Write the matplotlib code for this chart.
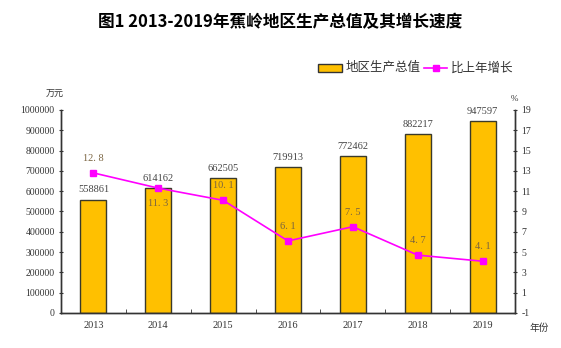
import matplotlib.pyplot as plt
from matplotlib.ticker import FixedLocator

plt.rcParams['font.family'] = ['Liberation Serif', 'Noto Sans CJK SC', 'DejaVu Sans']

years = ["2013", "2014", "2015", "2016", "2017", "2018", "2019"]
gdp = [558861, 614162, 662505, 719913, 772462, 882217, 947597]
growth = [12.8, 11.3, 10.1, 6.1, 7.5, 4.7, 4.1]
# growth label goes above the point unless listed here
below = [1]

gold = "#FFC000"
pink = "#FF00FF"
cjk = ['Noto Sans CJK SC', 'DejaVu Sans']

fig = plt.figure(figsize=(5.61, 3.48), dpi=100)
ax = fig.add_axes([0.1087, 0.1006, 0.8093, 0.5834])
ax2 = ax.twinx()

x = list(range(len(years)))
ax.bar(x, gdp, width=0.4, color=gold, edgecolor="#3a3a2a", linewidth=1.0, zorder=2)
for i, v in enumerate(gdp):
    ax.text(i, v + 25000, str(v), ha="center", va="bottom", fontsize=7.5, color="#444444")

ax.set_xlim(-0.5, len(years) - 0.5)
ax.set_ylim(0, 1000000)
ax.set_yticks(range(0, 1000001, 100000))
ax.set_yticklabels([str(v) for v in range(0, 1000001, 100000)], fontsize=7, color="#333333")
ax.set_xticks(x)
ax.set_xticklabels(years, fontsize=7.5, color="#333333")
ax.xaxis.set_minor_locator(FixedLocator([i + 0.5 for i in x[:-1]]))
ax.tick_params(axis="x", which="major", length=0, pad=6)
ax.tick_params(axis="x", which="minor", length=3, direction="in", color="#333333")
ax.tick_params(axis="y", length=3, direction="inout", color="#333333", pad=3)

ax2.plot(x, growth, color=pink, marker="s", markersize=5, linewidth=1.2, zorder=3)
for i, v in enumerate(growth):
    dy = -1.1 if i in below else 1.0
    va = "top" if i in below else "bottom"
    ax2.text(i, v + dy, f"{v:.1f}".replace(".", ". "), ha="center", va=va,
             fontsize=7.5, color="#7a6440")
ax2.set_ylim(-1, 19)
ax2.set_yticks(range(-1, 20, 2))
ax2.set_yticklabels([str(v) for v in range(-1, 20, 2)], fontsize=7, color="#333333")
ax2.tick_params(axis="y", length=3, direction="inout", color="#333333", pad=3)

for a in (ax, ax2):
    a.spines["top"].set_visible(False)
    for s in ("left", "right", "bottom"):
        a.spines[s].set_color("#333333")
        a.spines[s].set_linewidth(1.0)

fig.text(0.5, 0.935, "图1 2013-2019年蕉岭地区生产总值及其增长速度", ha="center", va="center",
         fontsize=12, fontweight="bold", family=['Noto Sans CJK SC', 'DejaVu Sans'])

# legend drawn by hand along the top right
fig.patches.append(plt.Rectangle((318 / 561, 1 - 72 / 348), 24 / 561, 8 / 348,
                                 transform=fig.transFigure, facecolor=gold,
                                 edgecolor="#333333", linewidth=1.0))
fig.text(346 / 561, 1 - 68 / 348, "地区生产总值", ha="left", va="center", fontsize=9,
         family=cjk, color="#333333")
fig.lines.append(plt.Line2D([424 / 561, 447 / 561], [1 - 68 / 348, 1 - 68 / 348],
                            transform=fig.transFigure, color=pink, linewidth=1.2))
fig.lines.append(plt.Line2D([435.5 / 561], [1 - 68 / 348], transform=fig.transFigure,
                            color=pink, marker="s", markersize=4, linestyle="none"))
fig.text(451 / 561, 1 - 68 / 348, "比上年增长", ha="left", va="center", fontsize=9,
         family=cjk, color="#333333")

fig.text(55 / 561, 1 - 94 / 348, "万元", ha="center", va="center", fontsize=6.5,
         family=cjk, color="#333333")
fig.text(514 / 561, 1 - 99 / 348, "%", ha="center", va="center", fontsize=6.5, color="#333333")
fig.text(539 / 561, 1 - 328 / 348, "年份", ha="center", va="center", fontsize=7,
         family=cjk, color="#333333")

fig.savefig("out.png", dpi=100)
